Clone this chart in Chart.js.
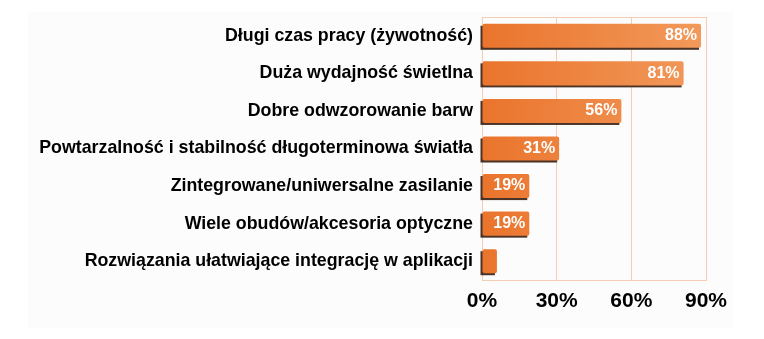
<!DOCTYPE html>
<html>
<head>
<meta charset="utf-8">
<script src="https://cdn.jsdelivr.net/npm/chart.js@4"></script>
<style>
  html, body { margin: 0; padding: 0; background: #ffffff; }
  #wrap { position: relative; width: 764px; height: 339px; }
  #bg { position: absolute; left: 28px; top: 12px; width: 705px; height: 316px; background: #fcfcfc; }
  #chart { position: absolute; left: 0; top: 0; }
</style>
</head>
<body>
<div id="wrap">
  <div id="bg"></div>
  <canvas id="chart" width="764" height="339"></canvas>
</div>
<script>
// Data
const categories = [
    'Długi czas pracy (żywotność)',
    'Duża wydajność świetlna',
    'Dobre odwzorowanie barw',
    'Powtarzalność i stabilność długoterminowa światła',
    'Zintegrowane/uniwersalne zasilanie',
    'Wiele obudów/akcesoria optyczne',
    'Rozwiązania ułatwiające integrację w aplikacji'
];
const values = [88, 81, 56, 31, 19, 19, 6];
const showLabel = [true, true, true, true, true, true, false];
const xTicks = [0, 30, 60, 90];

const FONT = '"Liberation Sans", Arial, sans-serif';
const GRID = '#f6cdb2';

// dark edge under each bar + frame round the plot area
const barDecor = {
    id: 'barDecor',
    beforeDatasetsDraw(chart) {
        const ctx = chart.ctx;
        const area = chart.chartArea;
        ctx.save();
        ctx.strokeStyle = GRID;
        ctx.lineWidth = 1;
        ctx.strokeRect(area.left + 0.5, area.top + 0.5, area.right - area.left, area.bottom - area.top);
        ctx.fillStyle = '#4b3426';
        chart.getDatasetMeta(0).data.forEach(bar => {
            const h = bar.height;
            ctx.fillRect(bar.base - 2, bar.y - h / 2 + 2, bar.x - bar.base, h);
        });
        ctx.restore();
    },
    afterDatasetsDraw(chart) {
        const ctx = chart.ctx;
        ctx.save();
        ctx.font = 'bold 16px ' + FONT;
        ctx.fillStyle = '#ffffff';
        ctx.textAlign = 'right';
        ctx.textBaseline = 'middle';
        chart.getDatasetMeta(0).data.forEach((bar, i) => {
            if (!showLabel[i]) return;
            ctx.fillText(values[i] + '%', bar.x - 4, bar.y);
        });
        ctx.restore();
    }
};

function barFill(context) {
    const area = context.chart.chartArea;
    if (!area) return '#ee8640';
    const g = context.chart.ctx.createLinearGradient(area.left, 0, area.right, 0);
    g.addColorStop(0, '#ea742c');
    g.addColorStop(1, '#f29a5c');
    return g;
}

new Chart(document.getElementById('chart').getContext('2d'), {
    type: 'bar',
    data: {
        labels: categories,
        datasets: [{
            data: values,
            backgroundColor: barFill,
            borderWidth: 0,
            borderRadius: 2,
            borderSkipped: false,
            barPercentage: 0.64,
            categoryPercentage: 1
        }]
    },
    options: {
        indexAxis: 'y',
        responsive: false,
        animation: false,
        layout: { padding: { top: 17, right: 58, left: 0, bottom: 0 } },
        plugins: {
            legend: { display: false },
            tooltip: { enabled: false }
        },
        scales: {
            x: {
                min: 0,
                max: 90,
                afterBuildTicks: scale => { scale.ticks = xTicks.map(v => ({ value: v })); },
                afterFit: scale => { scale.height = 59; },
                grid: { color: GRID, drawTicks: false },
                border: { display: false },
                ticks: {
                    padding: 9,
                    color: '#000000',
                    font: { family: FONT, size: 21, weight: 'bold' },
                    callback: v => v + '%'
                }
            },
            y: {
                afterFit: scale => { scale.width = 482; },
                grid: { display: false },
                border: { display: false },
                ticks: {
                    padding: 1,
                    color: '#000000',
                    font: { family: FONT, size: 17.8, weight: 'bold' }
                }
            }
        }
    },
    plugins: [barDecor]
});
</script>
</body>
</html>
